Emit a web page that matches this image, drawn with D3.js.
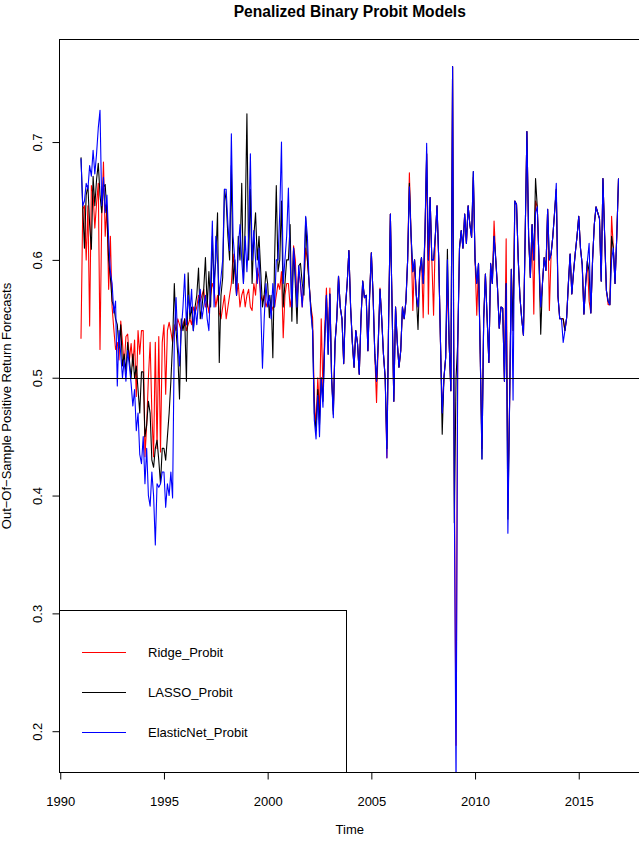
<!DOCTYPE html>
<html>
<head>
<meta charset="utf-8">
<script src="https://cdn.jsdelivr.net/npm/d3@7"></script>
<style>
body { margin: 0; background: #fff; }
svg { display: block; font-family: "Liberation Sans", Arial, sans-serif; }
</style>
</head>
<body>
<svg width="639" height="846"></svg>
<script>
// monthly forecasts, Jan 1991 .. Dec 2016
const startYear = 1991;

const ridge = [
  .533,.643,.646,.600,.646,.544,.663,.656,.627,.648,.665,.524,
  .637,.683,.620,.646,.575,.620,.560,.541,.524,.530,.515,.548,
  .530,.510,.535,.537,.515,.529,.510,.532,.484,.540,.520,.540,
  .540,.433,.460,.500,.530,.470,.433,.530,.440,.535,.437,.530,
  .545,.486,.540,.547,.539,.530,.545,.540,.550,.545,.540,.545,
  .550,.540,.545,.550,.545,.560,.555,.560,.570,.565,.570,.575,
  .560,.565,.555,.570,.580,.575,.560,.570,.555,.550,.560,.570,
  .550,.560,.570,.580,.605,.590,.570,.580,.560,.570,.575,.560,
  .570,.575,.560,.557,.580,.570,.593,.585,.570,.565,.570,.560,
  .565,.560,.555,.560,.560,.570,.580,.575,.590,.534,.570,.580,
  .580,.560,.570,.612,.600,.565,.590,.580,.560,.580,.610,.600,
  .580,.560,.551,.480,.460,.500,.470,.550,.490,.540,.576,.530,
  .576,.500,.472,.530,.550,.586,.560,.550,.512,.560,.580,.608,
  .560,.530,.509,.540,.529,.503,.550,.582,.568,.570,.523,.570,
  .606,.570,.520,.479,.530,.576,.550,.520,.500,.432,.550,.639,
  .560,.480,.560,.530,.509,.523,.560,.550,.565,.600,.674,.620,
  .557,.600,.570,.560,.590,.602,.551,.620,.690,.554,.653,.600,
  .553,.620,.646,.600,.530,.470,.500,.517,.580,.530,.489,.764,
  .420,.188,.530,.610,.625,.610,.639,.614,.646,.630,.619,.670,
  .600,.553,.597,.520,.440,.550,.588,.550,.513,.597,.580,.633,
  .600,.576,.542,.560,.559,.497,.618,.400,.480,.592,.540,.650,
  .647,.600,.568,.550,.536,.620,.709,.620,.585,.630,.554,.650,
  .645,.600,.560,.580,.602,.591,.643,.557,.605,.620,.640,.660,
  .569,.550,.550,.550,.540,.551,.580,.605,.571,.590,.606,.620,
  .637,.610,.596,.554,.580,.599,.565,.555,.600,.630,.645,.640,
  .635,.582,.669,.620,.574,.562,.562,.637,.610,.580,.620,.669
];

const lasso = [
  .687,.645,.610,.655,.663,.630,.609,.671,.646,.668,.682,.655,
  .640,.662,.664,.640,.600,.585,.565,.560,.550,.545,.525,.545,
  .510,.520,.505,.530,.515,.500,.520,.500,.510,.490,.470,.505,
  .505,.450,.460,.480,.470,.430,.424,.440,.447,.430,.410,.440,
  .440,.430,.450,.470,.497,.530,.580,.540,.520,.482,.550,.540,
  .550,.497,.589,.550,.560,.540,.560,.570,.593,.550,.560,.575,
  .602,.560,.590,.560,.620,.580,.600,.640,.513,.570,.585,.660,
  .650,.620,.600,.680,.580,.600,.570,.620,.600,.665,.580,.630,
  .724,.600,.660,.580,.620,.640,.600,.620,.590,.560,.570,.590,
  .580,.551,.570,.517,.600,.663,.590,.600,.650,.560,.580,.600,
  .600,.630,.548,.610,.580,.546,.595,.597,.580,.570,.636,.600,
  .580,.560,.540,.470,.455,.490,.460,.500,.480,.530,.570,.520,
  .571,.500,.469,.530,.550,.586,.560,.550,.512,.560,.580,.608,
  .560,.530,.509,.540,.529,.503,.550,.582,.568,.570,.523,.570,
  .606,.570,.520,.497,.530,.575,.550,.520,.500,.440,.550,.639,
  .560,.480,.560,.530,.509,.523,.560,.550,.565,.600,.665,.620,
  .590,.600,.570,.541,.590,.602,.580,.620,.690,.600,.653,.600,
  .600,.620,.646,.600,.530,.452,.500,.517,.609,.530,.489,.764,
  .377,.500,.530,.610,.625,.610,.639,.614,.646,.630,.619,.675,
  .600,.580,.597,.520,.431,.550,.588,.550,.513,.597,.580,.620,
  .600,.576,.542,.560,.559,.497,.580,.380,.480,.592,.540,.650,
  .647,.600,.568,.550,.536,.620,.709,.620,.585,.630,.600,.669,
  .645,.600,.537,.580,.602,.591,.643,.600,.605,.620,.640,.660,
  .569,.550,.550,.550,.540,.551,.580,.605,.571,.590,.606,.620,
  .637,.610,.596,.554,.580,.599,.590,.555,.600,.630,.645,.640,
  .635,.582,.669,.620,.574,.565,.562,.620,.610,.580,.620,.669
];

const enet = [
  .686,.646,.650,.665,.660,.680,.671,.693,.673,.690,.712,.727,
  .646,.670,.640,.655,.618,.590,.580,.555,.565,.493,.540,.520,
  .500,.515,.497,.523,.510,.495,.476,.490,.455,.470,.435,.427,
  .450,.410,.440,.400,.391,.420,.400,.358,.410,.407,.410,.420,
  .420,.390,.410,.400,.420,.398,.535,.568,.530,.510,.540,.560,
  .588,.545,.570,.555,.575,.540,.560,.545,.565,.575,.550,.560,
  .570,.550,.540,.580,.633,.560,.620,.600,.570,.585,.600,.660,
  .660,.630,.608,.707,.620,.600,.570,.610,.630,.600,.580,.620,
  .590,.620,.690,.600,.625,.600,.580,.610,.560,.508,.550,.580,
  .560,.570,.550,.580,.560,.600,.600,.640,.700,.580,.600,.620,
  .661,.600,.560,.610,.590,.560,.595,.580,.560,.590,.637,.620,
  .580,.555,.540,.464,.448,.485,.450,.500,.475,.530,.570,.520,
  .571,.500,.466,.530,.550,.586,.560,.550,.512,.560,.580,.608,
  .560,.530,.509,.540,.529,.503,.550,.582,.568,.570,.523,.570,
  .606,.570,.520,.497,.530,.575,.550,.520,.500,.432,.550,.639,
  .560,.480,.560,.530,.509,.523,.560,.550,.565,.600,.662,.620,
  .590,.600,.570,.560,.590,.602,.580,.620,.699,.600,.653,.600,
  .600,.620,.646,.600,.530,.470,.500,.517,.600,.530,.489,.764,
  .400,.150,.530,.610,.625,.610,.639,.614,.646,.630,.619,.675,
  .600,.580,.597,.520,.431,.550,.588,.550,.513,.597,.580,.620,
  .600,.576,.542,.560,.559,.497,.580,.368,.480,.592,.481,.650,
  .647,.600,.568,.550,.536,.620,.709,.620,.585,.630,.600,.640,
  .645,.600,.560,.580,.602,.591,.643,.600,.605,.620,.640,.665,
  .569,.550,.550,.530,.540,.551,.580,.605,.571,.590,.606,.620,
  .637,.610,.596,.554,.580,.599,.614,.555,.600,.630,.645,.640,
  .635,.582,.669,.620,.574,.565,.562,.600,.610,.580,.620,.669
];

const seriesNames = ['Ridge_Probit', 'LASSO_Probit', 'ElasticNet_Probit'];
const seriesColors = ['#ff0000', '#000000', '#0000ff'];
const xTicks = [1990, 1995, 2000, 2005, 2010, 2015];
const yTicks = [0.2, 0.3, 0.4, 0.5, 0.6, 0.7];
const refLevel = 0.5;

const svg = d3.select('svg');
const plotLeft = 59.5, plotRight = 640, plotTop = 39.5, plotBottom = 772.5;

// R style limits: range of first series, padded by 4%
const time = ridge.map((_, i) => startYear + i / 12);
const tExt = d3.extent(time), vExt = d3.extent(ridge);
const tPad = (tExt[1] - tExt[0]) * 0.04, vPad = (vExt[1] - vExt[0]) * 0.04;

const x = d3.scaleLinear().domain([tExt[0] - tPad, tExt[1] + tPad]).range([plotLeft, plotRight]);
const y = d3.scaleLinear().domain([vExt[0] - vPad, vExt[1] + vPad]).range([plotBottom, plotTop]);

svg.append('clipPath').attr('id', 'plotclip')
  .append('rect')
  .attr('x', plotLeft).attr('y', plotTop)
  .attr('width', plotRight - plotLeft).attr('height', plotBottom - plotTop);

const line = d3.line()
  .x((d, i) => x(startYear + i / 12))
  .y(d => y(d));

const plot = svg.append('g').attr('clip-path', 'url(#plotclip)');
[ridge, lasso, enet].forEach((s, k) => {
  plot.append('path')
    .datum(s)
    .attr('d', line)
    .attr('fill', 'none')
    .attr('stroke', seriesColors[k])
    .attr('stroke-width', 1.1)
    .attr('stroke-linejoin', 'round');
});

plot.append('line')
  .attr('x1', plotLeft).attr('x2', plotRight)
  .attr('y1', Math.round(y(refLevel)) + 0.5).attr('y2', Math.round(y(refLevel)) + 0.5)
  .attr('stroke', '#000').attr('stroke-width', 1);

// x axis
const xAxis = svg.append('g')
  .attr('transform', `translate(0,${plotBottom})`)
  .call(d3.axisBottom(x).tickValues(xTicks).tickSize(7).tickFormat(d3.format('d')));
xAxis.select('.domain').remove();
xAxis.selectAll('line').attr('stroke', '#000');
xAxis.selectAll('text')
  .attr('y', 29).attr('dy', '0.35em')
  .attr('font-size', 13).attr('font-family', '"Liberation Sans", Arial, sans-serif')
  .attr('fill', '#000');

// y axis, labels parallel to axis
const yAxis = svg.append('g')
  .attr('transform', `translate(${plotLeft},0)`)
  .call(d3.axisLeft(y).tickValues(yTicks).tickSize(7).tickFormat(d3.format('.1f')));
yAxis.select('.domain').remove();
yAxis.selectAll('line').attr('stroke', '#000');
yAxis.selectAll('text')
  .attr('x', null)
  .attr('text-anchor', 'middle')
  .attr('transform', 'translate(-22,0) rotate(-90)')
  .attr('dy', '0.35em')
  .attr('font-size', 13).attr('font-family', '"Liberation Sans", Arial, sans-serif')
  .attr('fill', '#000');

// box
svg.append('rect')
  .attr('x', plotLeft).attr('y', plotTop)
  .attr('width', plotRight - plotLeft).attr('height', plotBottom - plotTop)
  .attr('fill', 'none').attr('stroke', '#000');

// titles
svg.append('text')
  .attr('x', (plotLeft + plotRight) / 2).attr('y', 17)
  .attr('text-anchor', 'middle')
  .attr('font-size', 15.6).attr('font-weight', 'bold')
  .text('Penalized Binary Probit Models');

svg.append('text')
  .attr('x', (plotLeft + plotRight) / 2).attr('y', 829).attr('dy', '0.35em')
  .attr('text-anchor', 'middle')
  .attr('font-size', 13)
  .text('Time');

svg.append('text')
  .attr('transform', `translate(6,${(plotTop + plotBottom) / 2}) rotate(-90)`)
  .attr('dy', '0.35em')
  .attr('text-anchor', 'middle')
  .attr('font-size', 13)
  .text('Out\u2212Of\u2212Sample Positive Return Forecasts');

// legend, bottom left
const lg = svg.append('g');
lg.append('rect')
  .attr('x', plotLeft).attr('y', 610.5)
  .attr('width', 287).attr('height', plotBottom - 610.5)
  .attr('fill', '#fff').attr('stroke', '#000');
seriesNames.forEach((name, k) => {
  const ly = 652.5 + k * 40;
  lg.append('line')
    .attr('x1', 82).attr('x2', 126)
    .attr('y1', ly).attr('y2', ly)
    .attr('stroke', seriesColors[k]).attr('stroke-width', 1.1);
  lg.append('text')
    .attr('x', 148).attr('y', ly).attr('dy', '0.35em')
    .attr('font-size', 13)
    .text(name);
});
</script>
</body>
</html>
